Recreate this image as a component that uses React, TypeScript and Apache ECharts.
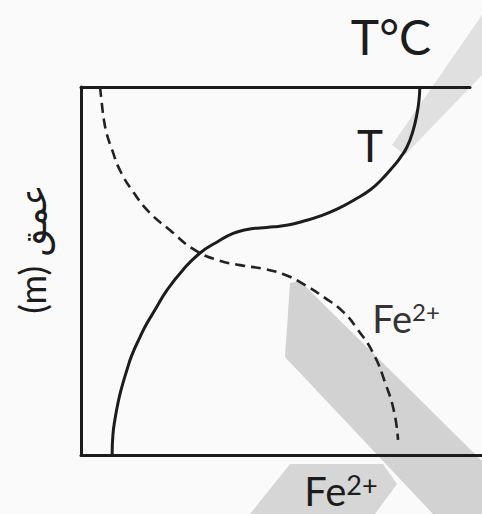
import React, { useEffect, useRef } from "react";
import * as echarts from "echarts";

// Temperature profile (x: relative value 0-100, y: depth 0-100, downward)
const tempX = [87.1, 86.9, 86.4, 85.4, 83.8, 82.0, 80.2, 77.4, 74.3, 70.2, 65.8, 61.4, 57.1, 53.2, 49.6, 46.0, 42.7, 39.1, 35.0, 30.6, 26.2, 22.1, 19.0, 16.7, 15.2, 13.1, 11.8, 10.3, 9.5, 8.7, 8.2, 8.0];
const tempDepth = [0, 3.5, 7.1, 11.7, 16.3, 19.3, 21.7, 25.0, 28.0, 30.7, 33.2, 35.1, 36.5, 37.5, 38.0, 38.3, 38.7, 39.8, 42.1, 45.1, 49.7, 55.2, 60.6, 64.7, 67.9, 72.8, 76.9, 82.3, 85.9, 90.5, 94.6, 100];

// Fe2+ profile
const feX = [4.9, 5.4, 5.9, 6.7, 8.0, 10.0, 13.4, 17.7, 22.9, 28.8, 35.0, 40.9, 46.8, 51.9, 57.1, 62.7, 67.4, 71.2, 75.1, 78.4, 80.5, 81.5];
const feDepth = [0, 4.9, 9.0, 13.0, 17.1, 22.6, 28.5, 34.2, 38.9, 44.0, 47.0, 48.4, 49.4, 50.8, 53.5, 57.3, 61.1, 66.0, 72.3, 81.0, 88.3, 95.9];

const topAxisName = "T°C";
const bottomAxisName = "Fe2+";
const depthAxisName = "(m) عمق";
const tempLabel = "T";
const feLabel = "Fe2+";

const FONT = 'Lato, "DejaVu Sans", sans-serif';
const INK = "#1c1c1c";

function supText(s: string) {
  const m = s.match(/^([A-Za-z]+)(.*)$/);
  if (!m) return s;
  return `{a|${m[1]}}{b|${m[2]}}`;
}

export default function App() {
  const ref = useRef<HTMLDivElement>(null);
  useEffect(() => {
    if (!ref.current) return;
    const chart = echarts.init(ref.current, null, { renderer: "svg" });
    const tempData = tempX.map((x, i) => [x, tempDepth[i]]);
    const feData = feX.map((x, i) => [x, feDepth[i]]);
    const hiddenAxis = {
      axisTick: { show: false },
      axisLabel: { show: false },
      splitLine: { show: false },
    };
    chart.setOption({
      animation: false,
      backgroundColor: "#fafafa",
      grid: [
        { left: 81, right: 12, top: 87, bottom: 59 },
        { left: 81, right: 0, top: 87, bottom: 59 },
      ],
      xAxis: [
        {
          type: "value",
          gridIndex: 0,
          position: "top",
          min: 0,
          max: 100,
          z: 3,
          axisLine: { show: true, onZero: false, lineStyle: { color: INK, width: 3 } },
          ...hiddenAxis,
        },
        {
          type: "value",
          gridIndex: 1,
          position: "bottom",
          min: 0,
          max: 100,
          z: 3,
          axisLine: { show: true, onZero: false, lineStyle: { color: INK, width: 3 } },
          ...hiddenAxis,
        },
      ],
      yAxis: [
        {
          type: "value",
          gridIndex: 0,
          inverse: true,
          min: 0,
          max: 100,
          z: 3,
          axisLine: { show: true, onZero: false, lineStyle: { color: INK, width: 3 } },
          ...hiddenAxis,
        },
        {
          type: "value",
          gridIndex: 1,
          inverse: true,
          min: 0,
          max: 100,
          axisLine: { show: false },
          ...hiddenAxis,
        },
      ],
      series: [
        {
          type: "line",
          name: "T",
          xAxisIndex: 0,
          yAxisIndex: 0,
          data: tempData,
          smooth: 0.5,
          showSymbol: false,
          z: 4,
          lineStyle: { color: INK, width: 3 },
        },
        {
          type: "line",
          name: "Fe2+",
          xAxisIndex: 0,
          yAxisIndex: 0,
          data: feData,
          smooth: 0.5,
          showSymbol: false,
          z: 4,
          lineStyle: { color: "#222", width: 2.6, type: [10, 6] },
        },
      ],
      graphic: [
        {
          type: "polygon",
          z: 0,
          silent: true,
          shape: { points: [[290, 283], [300, 281], [482, 461], [482, 514], [433, 514], [285, 357]] },
          style: { fill: "#d2d2d2" },
        },
        {
          type: "polygon",
          z: 0,
          silent: true,
          shape: { points: [[482, 15], [482, 75], [405, 155], [392, 145]] },
          style: { fill: "#e0e0e0" },
        },
        {
          type: "polygon",
          z: 0,
          silent: true,
          shape: { points: [[290, 464], [383, 464], [397, 484], [375, 514], [250, 514]] },
          style: { fill: "#d6d6d6" },
        },
        {
          type: "text",
          z: 10,
          x: 391,
          y: 36,
          style: {
            text: topAxisName,
            fontFamily: FONT,
            fontSize: 48,
            fill: INK,
            align: "center",
            verticalAlign: "middle",
          },
        },
        {
          type: "text",
          z: 10,
          x: 370,
          y: 145,
          style: {
            text: tempLabel,
            fontFamily: FONT,
            fontSize: 44,
            fill: INK,
            align: "center",
            verticalAlign: "middle",
          },
        },
        {
          type: "text",
          z: 10,
          x: 406,
          y: 318,
          style: {
            text: supText(feLabel),
            fontFamily: FONT,
            fill: "#333",
            align: "center",
            verticalAlign: "middle",
            rich: {
              a: { fontFamily: FONT, fontSize: 38, fill: "#333" },
              b: { fontFamily: FONT, fontSize: 24, fill: "#333", verticalAlign: "top" },
            },
          },
        },
        {
          type: "text",
          z: 10,
          x: 341,
          y: 491,
          style: {
            text: supText(bottomAxisName),
            fontFamily: FONT,
            fill: INK,
            align: "center",
            verticalAlign: "middle",
            rich: {
              a: { fontFamily: FONT, fontSize: 40, fill: INK },
              b: { fontFamily: FONT, fontSize: 27, fill: INK, verticalAlign: "top" },
            },
          },
        },
        {
          type: "text",
          z: 10,
          x: 32,
          y: 249,
          rotation: Math.PI / 2,
          style: {
            text: depthAxisName,
            fontFamily: FONT,
            fontSize: 36,
            fill: INK,
            align: "center",
            verticalAlign: "middle",
          },
        },
      ],
    });
    return () => chart.dispose();
  }, []);
  return (
    <div
      ref={ref}
      style={{ position: "fixed", left: 0, top: 0, width: 482, height: 514, background: "#fafafa" }}
    />
  );
}
